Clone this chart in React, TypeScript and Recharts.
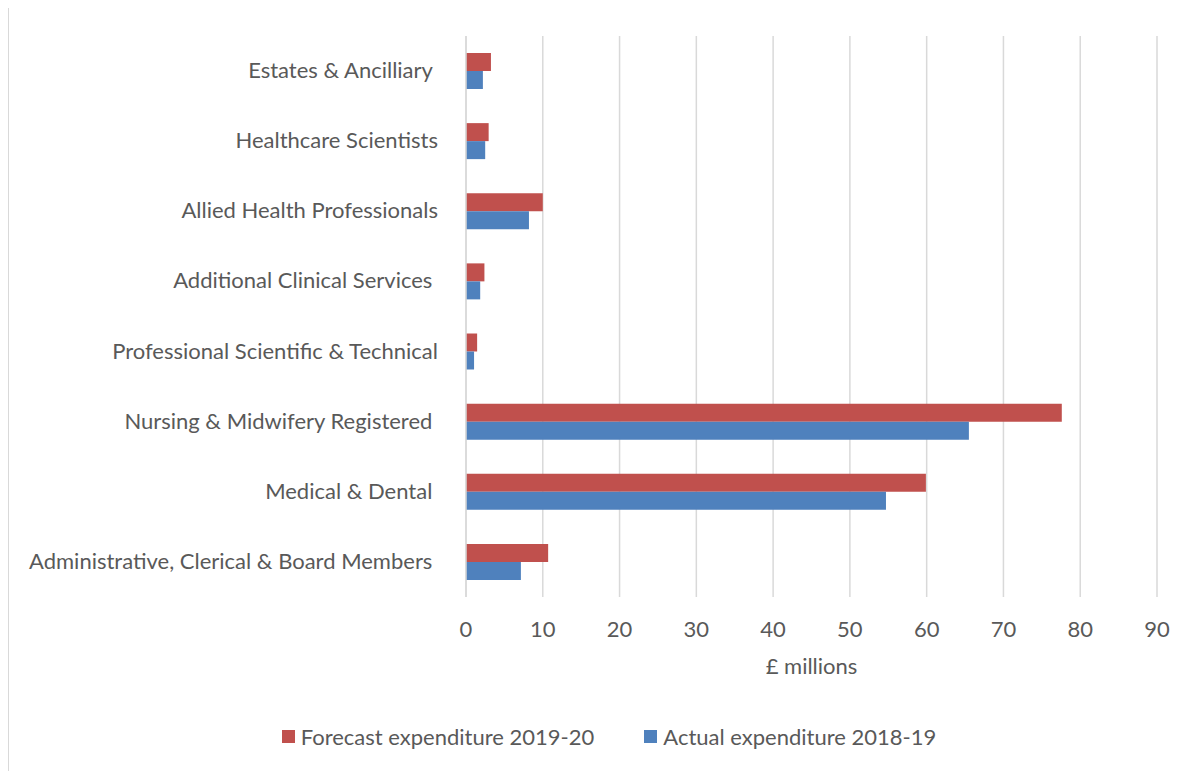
import React from 'react';
import { BarChart, Bar, XAxis, YAxis, CartesianGrid, Legend } from 'recharts';

const categories = [
  'Estates & Ancilliary ',
  'Healthcare Scientists',
  'Allied Health Professionals',
  'Additional Clinical Services ',
  'Professional Scientific & Technical',
  'Nursing & Midwifery Registered ',
  'Medical & Dental ',
  'Administrative, Clerical & Board Members ',
];
const forecast2019 = [3.25, 2.95, 10.0, 2.4, 1.45, 77.6, 59.9, 10.7];
const actual2018 = [2.2, 2.5, 8.2, 1.85, 1.05, 65.5, 54.7, 7.15];
const xTicks = [0, 10, 20, 30, 40, 50, 60, 70, 80, 90];
const seriesNames = ['Forecast expenditure 2019-20', 'Actual expenditure 2018-19'];

const data = categories.map((c, i) => ({ name: c, forecast: forecast2019[i], actual: actual2018[i] }));

const FONT = 'Lato, "Open Sans", sans-serif';
const FS = 22;
const TEXT = '#595959';
const RED = '#C0504D';
const BLUE = '#4F81BD';

const CatTick = (props: any) => {
  const { x, y, payload } = props;
  return (
    <text x={x} y={y} dy={7} textAnchor="end" fill={TEXT} fontSize={FS} fontFamily={FONT} xmlSpace="preserve" style={{ whiteSpace: 'pre' }}>
      {payload.value}
    </text>
  );
};

const LegendContent = () => (
  <div style={{ display: 'flex', justifyContent: 'center', fontFamily: FONT, fontSize: FS, color: TEXT, paddingLeft: 52 }}>
    {[RED, BLUE].map((c, i) => (
      <div key={i} style={{ display: 'flex', alignItems: 'center', marginRight: i === 0 ? 50 : 0 }}>
        <span style={{ display: 'inline-block', width: 13, height: 13, background: c, marginRight: 6 }} />
        <span>{seriesNames[i]}</span>
      </div>
    ))}
  </div>
);

export default function App() {
  return (
    <div style={{ width: 1190, height: 770, border: '1px solid #d9d9d9', boxSizing: 'border-box', marginTop: -2, background: '#fff' }}>
      <BarChart
        layout="vertical"
        width={1188}
        height={765}
        data={data}
        margin={{ top: 29, right: 40, bottom: 0, left: 0 }}
        barGap={0}
        barSize={18}
      >
        <CartesianGrid horizontal={false} vertical={true} stroke="#d9d9d9" strokeWidth={1.5} />
        <XAxis
          type="number"
          domain={[0, 90]}
          ticks={xTicks}
          axisLine={false}
          tickLine={false}
          tick={{ fill: TEXT, fontSize: FS, fontFamily: FONT }}
          tickMargin={18}
          height={148}
          label={{ value: '£ millions', position: 'insideTop', offset: 61, fill: TEXT, fontSize: FS, fontFamily: FONT }}
        />
        <YAxis
          type="category"
          dataKey="name"
          width={457}
          axisLine={{ stroke: '#d9d9d9', strokeWidth: 1.5 }}
          tickLine={false}
          tickSize={0}
          tickMargin={28}
          tick={<CatTick />}
          interval={0}
        />
        <Legend content={<LegendContent />} wrapperStyle={{ top: 716 }} />
        <Bar dataKey="forecast" name={seriesNames[0]} fill={RED} isAnimationActive={false} />
        <Bar dataKey="actual" name={seriesNames[1]} fill={BLUE} isAnimationActive={false} />
      </BarChart>
    </div>
  );
}
